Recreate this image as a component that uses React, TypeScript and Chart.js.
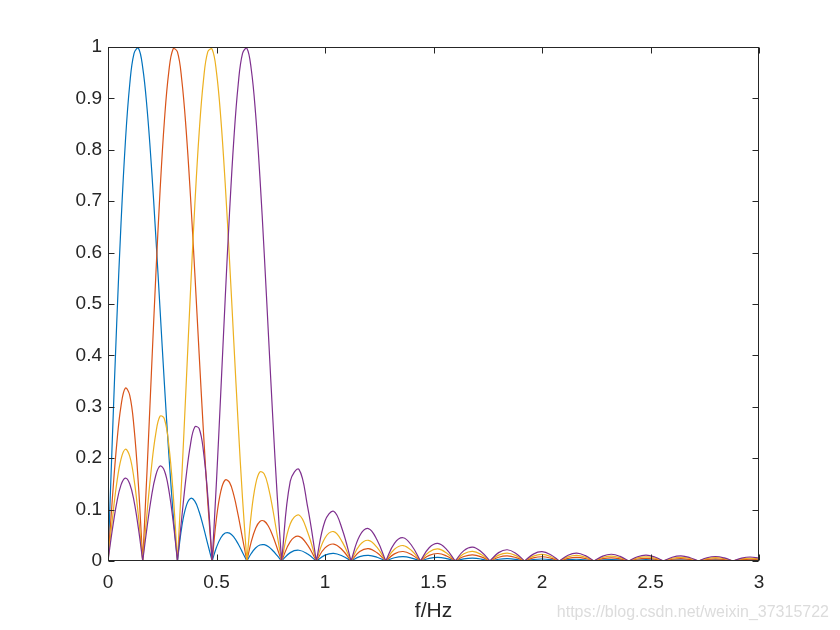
import React, { useEffect, useRef } from "react";
import { Chart, registerables } from "chart.js";

Chart.register(...registerables);

// frequency axis (Hz)
const freq: number[] = [
  0, 0.02, 0.04, 0.06, 0.08, 0.1, 0.12, 0.14, 0.16, 0.18, 0.2, 0.22, 0.24, 0.26, 0.28, 0.3, 0.32, 0.34, 0.36, 0.38,
  0.4, 0.42, 0.44, 0.46, 0.48, 0.5, 0.52, 0.54, 0.56, 0.58, 0.6, 0.62, 0.64, 0.66, 0.68, 0.7, 0.72, 0.74, 0.76, 0.78, 0.8,
  0.84, 0.88, 0.92, 0.96, 1, 1.04, 1.08, 1.12, 1.16, 1.2, 1.24, 1.28, 1.32, 1.36, 1.4, 1.44, 1.48, 1.52, 1.56, 1.6,
  1.64, 1.68, 1.72, 1.76, 1.8, 1.84, 1.88, 1.92, 1.96, 2, 2.04, 2.08, 2.12, 2.16, 2.2, 2.24, 2.28, 2.32, 2.36, 2.4,
  2.44, 2.48, 2.52, 2.56, 2.6, 2.64, 2.68, 2.72, 2.76, 2.8, 2.84, 2.88, 2.92, 2.96, 3,
];

const seriesBlue: number[] = [
  0, 0.2376, 0.4609, 0.6569, 0.8148, 0.9265, 0.9877, 0.9978, 0.9599, 0.8804, 0.7682, 0.6339, 0.4889, 0.3441, 0.2095, 0.093,
  0, 0.0665, 0.1064, 0.1217, 0.1164, 0.0958, 0.0658, 0.0322, 0, 0.0267, 0.0452, 0.0543, 0.0543, 0.0465, 0.0331, 0.0167,
  0, 0.0146, 0.0253, 0.0311, 0.0317, 0.0277, 0.02, 0.0103, 0,
  0.0163, 0.0209, 0.0135, 0, 0.0114, 0.0148, 0.0097, 0, 0.0084, 0.0111, 0.0073, 0, 0.0064, 0.0086, 0.0057, 0,
  0.0051, 0.0069, 0.0046, 0, 0.0042, 0.0056, 0.0038, 0, 0.0034, 0.0047, 0.0032, 0, 0.0029, 0.0039, 0.0027, 0,
  0.0025, 0.0034, 0.0023, 0, 0.0021, 0.0029, 0.002, 0, 0.0019, 0.0026, 0.0018, 0, 0.0016, 0.0023, 0.0016, 0,
  0.0015, 0.002, 0.0014, 0, 0.0013, 0.0018, 0.0012,
];

const seriesOrange: number[] = [
  0, 0.1211, 0.2265, 0.3019, 0.3363, 0.3228, 0.2594, 0.1492, 0, 0.1765, 0.3658, 0.5523, 0.7206, 0.857, 0.9511, 0.9963,
  0.9904, 0.9359, 0.8392, 0.7101, 0.5605, 0.403, 0.2503, 0.1131, 0, 0.0837, 0.1359, 0.1576, 0.1529, 0.1275, 0.0886, 0.0438,
  0, 0.0371, 0.0634, 0.077, 0.0776, 0.067, 0.048, 0.0244, 0,
  0.0378, 0.048, 0.0307, 0, 0.0254, 0.033, 0.0215, 0, 0.0184, 0.0241, 0.0159, 0, 0.0139, 0.0185, 0.0123, 0,
  0.0109, 0.0146, 0.0098, 0, 0.0088, 0.0119, 0.008, 0, 0.0073, 0.0098, 0.0067, 0, 0.0061, 0.0083, 0.0056, 0,
  0.0052, 0.0071, 0.0048, 0, 0.0045, 0.0061, 0.0042, 0, 0.0039, 0.0053, 0.0037, 0, 0.0034, 0.0047, 0.0032, 0,
  0.003, 0.0042, 0.0029, 0, 0.0027, 0.0037, 0.0026,
];

const seriesYellow: number[] = [
  0, 0.081, 0.1505, 0.1983, 0.2174, 0.2041, 0.1594, 0.0884, 0, 0.0941, 0.1808, 0.2472, 0.2818, 0.2763, 0.2265, 0.1327,
  0, 0.1623, 0.3415, 0.5231, 0.6916, 0.833, 0.9355, 0.9911, 0.9958, 0.9506, 0.8607, 0.735, 0.5852, 0.4244, 0.2657, 0.121,
  0, 0.0908, 0.1484, 0.1733, 0.1691, 0.1418, 0.0992, 0.0493, 0,
  0.0725, 0.0895, 0.0559, 0, 0.0447, 0.0572, 0.0368, 0, 0.0309, 0.0403, 0.0263, 0, 0.0228, 0.0301, 0.0199, 0,
  0.0176, 0.0234, 0.0156, 0, 0.014, 0.0188, 0.0126, 0, 0.0114, 0.0154, 0.0104, 0, 0.0095, 0.0129, 0.0088, 0,
  0.0081, 0.011, 0.0075, 0, 0.0069, 0.0095, 0.0065, 0, 0.006, 0.0082, 0.0056, 0, 0.0053, 0.0072, 0.005, 0,
  0.0047, 0.0064, 0.0044, 0, 0.0042, 0.0057, 0.0039,
];

const seriesPurple: number[] = [
  0, 0.0608, 0.1127, 0.148, 0.1613, 0.1504, 0.1164, 0.0638, 0, 0.066, 0.1244, 0.1663, 0.1848, 0.1757, 0.1389, 0.0779,
  0, 0.0847, 0.1642, 0.2266, 0.2606, 0.2577, 0.2129, 0.1257, 0, 0.1559, 0.3304, 0.5092, 0.6774, 0.8208, 0.9271, 0.9876,
  0.9976, 0.9572, 0.871, 0.7473, 0.5977, 0.4354, 0.2737, 0.1252, 0,
  0.1554, 0.1783, 0.1053, 0, 0.0779, 0.0968, 0.0608, 0, 0.0491, 0.0631, 0.0408, 0, 0.0345, 0.0452, 0.0297, 0,
  0.0258, 0.0342, 0.0227, 0, 0.0202, 0.027, 0.018, 0, 0.0163, 0.0219, 0.0147, 0, 0.0134, 0.0181, 0.0123, 0,
  0.0113, 0.0153, 0.0104, 0, 0.0096, 0.0131, 0.0089, 0, 0.0083, 0.0113, 0.0077, 0, 0.0072, 0.0099, 0.0068, 0,
  0.0064, 0.0088, 0.006, 0, 0.0057, 0.0078, 0.0054,
];

const xTicks: number[] = [0, 0.5, 1, 1.5, 2, 2.5, 3];
const xTickLabels: string[] = ["0", "0.5", "1", "1.5", "2", "2.5", "3"];
const yTicks: number[] = [0, 0.1, 0.2, 0.3, 0.4, 0.5, 0.6, 0.7, 0.8, 0.9, 1];
const yTickLabels: string[] = ["0", "0.1", "0.2", "0.3", "0.4", "0.5", "0.6", "0.7", "0.8", "0.9", "1"];

const xTitle = "f/Hz";
const watermark = "https://blog.csdn.net/weixin_37315722";

const colors = ["#0072BD", "#D95319", "#EDB120", "#7E2F8E"];
const FONT = "'Liberation Sans', Arial, Helvetica, sans-serif";
const AXIS = "#262626";

// split every curve into separate lobes at its zeros so the cusps stay sharp
function toPoints(values: number[]) {
  const pts: { x: number; y: number | null }[] = [];
  const last = values.length - 1;
  values.forEach((v, i) => {
    pts.push({ x: freq[i], y: v });
    if (v === 0 && i > 0 && i < last) {
      pts.push({ x: freq[i], y: null });
      pts.push({ x: freq[i], y: 0 });
    }
  });
  return pts;
}

const boxPlugin = {
  id: "matlabBox",
  afterDatasetsDraw(chart: any) {
    const { ctx, chartArea: a, scales } = chart;
    ctx.save();
    ctx.strokeStyle = AXIS;
    ctx.lineWidth = 1;
    const L = Math.round(a.left) + 0.5;
    const R = Math.round(a.right) - 0.5;
    const T = Math.round(a.top) + 0.5;
    const B = Math.round(a.bottom) - 0.5;
    ctx.strokeRect(L, T, R - L, B - T);
    const tl = 6;
    ctx.beginPath();
    xTicks.forEach((v) => {
      const px = Math.round(scales.x.getPixelForValue(v)) + 0.5;
      ctx.moveTo(px, B);
      ctx.lineTo(px, B - tl);
      ctx.moveTo(px, T);
      ctx.lineTo(px, T + tl);
    });
    yTicks.forEach((v) => {
      const py = Math.round(scales.y.getPixelForValue(v)) + 0.5;
      ctx.moveTo(L, py);
      ctx.lineTo(L + tl, py);
      ctx.moveTo(R, py);
      ctx.lineTo(R - tl, py);
    });
    ctx.stroke();
    ctx.restore();
  },
  afterDraw(chart: any) {
    const { ctx } = chart;
    ctx.save();
    ctx.font = `16px ${FONT}`;
    ctx.fillStyle = "#dcdcdc";
    ctx.textAlign = "right";
    ctx.textBaseline = "alphabetic";
    ctx.fillText(watermark, 829, 617);
    ctx.restore();
  },
};

export default function App() {
  const ref = useRef<HTMLCanvasElement | null>(null);

  useEffect(() => {
    if (!ref.current) return;
    const all = [seriesBlue, seriesOrange, seriesYellow, seriesPurple];
    const chart = new Chart(ref.current, {
      type: "line",
      data: {
        datasets: all.map((s, i) => ({
          data: toPoints(s),
          borderColor: colors[i],
          backgroundColor: colors[i],
          borderWidth: 1.2,
          pointRadius: 0,
          pointHoverRadius: 0,
          tension: 0.4,
          fill: false,
          spanGaps: false,
          order: 4 - i,
        })),
      },
      options: {
        responsive: false,
        maintainAspectRatio: false,
        animation: false,
        events: [],
        layout: { padding: { left: 0, top: 47, right: 81, bottom: 0 } },
        plugins: { legend: { display: false }, tooltip: { enabled: false } },
        scales: {
          x: {
            type: "linear",
            min: 0,
            max: 3,
            grid: { display: false, drawTicks: false },
            border: { display: false },
            afterBuildTicks: (scale: any) => {
              scale.ticks = xTicks.map((v) => ({ value: v }));
            },
            afterFit: (scale: any) => {
              scale.height = 69;
            },
            ticks: {
              autoSkip: false,
              maxRotation: 0,
              padding: 10,
              color: AXIS,
              font: { family: FONT, size: 19 },
              callback: (_v: any, i: number) => xTickLabels[i],
            },
            title: {
              display: true,
              text: xTitle,
              color: AXIS,
              font: { family: FONT, size: 21 },
              padding: { top: 0, bottom: 6 },
            },
          },
          y: {
            type: "linear",
            min: 0,
            max: 1,
            grid: { display: false, drawTicks: false },
            border: { display: false },
            afterBuildTicks: (scale: any) => {
              scale.ticks = yTicks.map((v) => ({ value: v }));
            },
            afterFit: (scale: any) => {
              scale.width = 108;
            },
            ticks: {
              autoSkip: false,
              padding: 6,
              color: AXIS,
              font: { family: FONT, size: 19 },
              callback: (_v: any, i: number) => yTickLabels[i],
            },
          },
        },
      },
      plugins: [boxPlugin],
    });
    return () => chart.destroy();
  }, []);

  return (
    <div style={{ position: "absolute", left: 0, top: 0, width: 840, height: 630, background: "#ffffff" }}>
      <canvas ref={ref} width={840} height={630} style={{ width: 840, height: 630, display: "block" }} />
    </div>
  );
}
